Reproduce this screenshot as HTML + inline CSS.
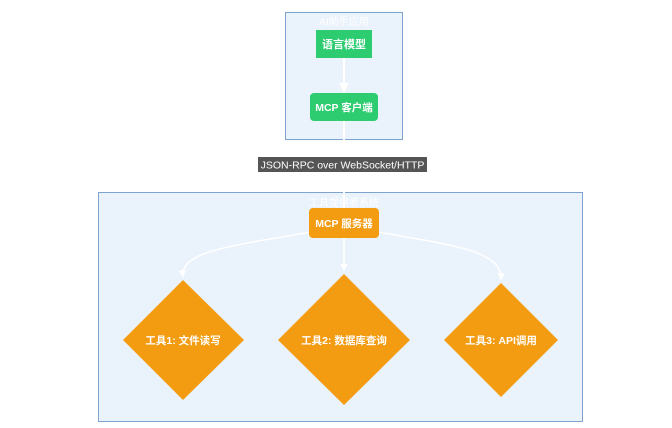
<!DOCTYPE html>
<html><head><meta charset="utf-8"><style>
html,body{margin:0;padding:0;background:#fff;width:672px;height:428px;overflow:hidden}
svg text{font-family:"Liberation Sans","Noto Sans CJK SC",sans-serif}
.b{font-weight:bold}
</style></head><body>
<svg width="672" height="428" viewBox="0 0 672 428" xmlns="http://www.w3.org/2000/svg">
<defs><marker id="a" viewBox="0 0 10 10" refX="8" refY="5" markerWidth="5" markerHeight="5" orient="auto"><path d="M0,0L10,5L0,10z" fill="#fff"/></marker></defs>
<rect x="285.5" y="12.5" width="117" height="127" fill="#eaf2fc" stroke="#7fa3d1" stroke-width="1"/>
<text x="344" y="25" font-size="10" fill="#fff" text-anchor="middle">AI助手应用</text>
<rect x="98.5" y="192.5" width="484" height="229" fill="#eaf2fc" stroke="#7fa3d1" stroke-width="1"/>
<text x="344" y="206" font-size="10" fill="#fff" text-anchor="middle">工具提供者系统</text>
<line x1="344" y1="58" x2="344" y2="91" stroke="#fff" stroke-width="2" marker-end="url(#a)"/>
<line x1="344" y1="121" x2="344" y2="208" stroke="#fff" stroke-width="2"/>
<rect x="316" y="30" width="56" height="28" fill="#2ecc71"/>
<text class="b" x="344" y="48" font-size="11" fill="#fff" text-anchor="middle">语言模型</text>
<rect x="310" y="93" width="68" height="28" rx="4" fill="#2ecc71"/>
<text class="b" x="344" y="111" font-size="10.5" fill="#fff" text-anchor="middle">MCP 客户端</text>
<rect x="258" y="157" width="169" height="15" fill="#555"/>
<text x="342.5" y="168.5" font-size="10.5" fill="#fff" text-anchor="middle">JSON-RPC over WebSocket/HTTP</text>
<path d="M310,232 C240,245 180,250 183,276" fill="none" stroke="#fff" stroke-width="1.5" marker-end="url(#a)"/>
<line x1="344" y1="238" x2="344" y2="270" stroke="#fff" stroke-width="1.5" marker-end="url(#a)"/>
<path d="M378,232 C450,245 502,250 501,279" fill="none" stroke="#fff" stroke-width="1.5" marker-end="url(#a)"/>
<rect x="309" y="208" width="70" height="30" rx="4" fill="#f39c12"/>
<text class="b" x="344" y="227" font-size="10.5" fill="#fff" text-anchor="middle">MCP 服务器</text>
<polygon points="183,280 244,340 183,400 123,340" fill="#f39c12"/>
<polygon points="344,274 410,340 344,405 278,340" fill="#f39c12"/>
<polygon points="501,283 558,340 501,397 444,340" fill="#f39c12"/>
<text class="b" x="183" y="344" font-size="10.5" fill="#fff" text-anchor="middle">工具1: 文件读写</text>
<text class="b" x="344" y="344" font-size="10.5" fill="#fff" text-anchor="middle">工具2: 数据库查询</text>
<text class="b" x="501" y="344" font-size="10.5" fill="#fff" text-anchor="middle">工具3: API调用</text>
</svg>
</body></html>
